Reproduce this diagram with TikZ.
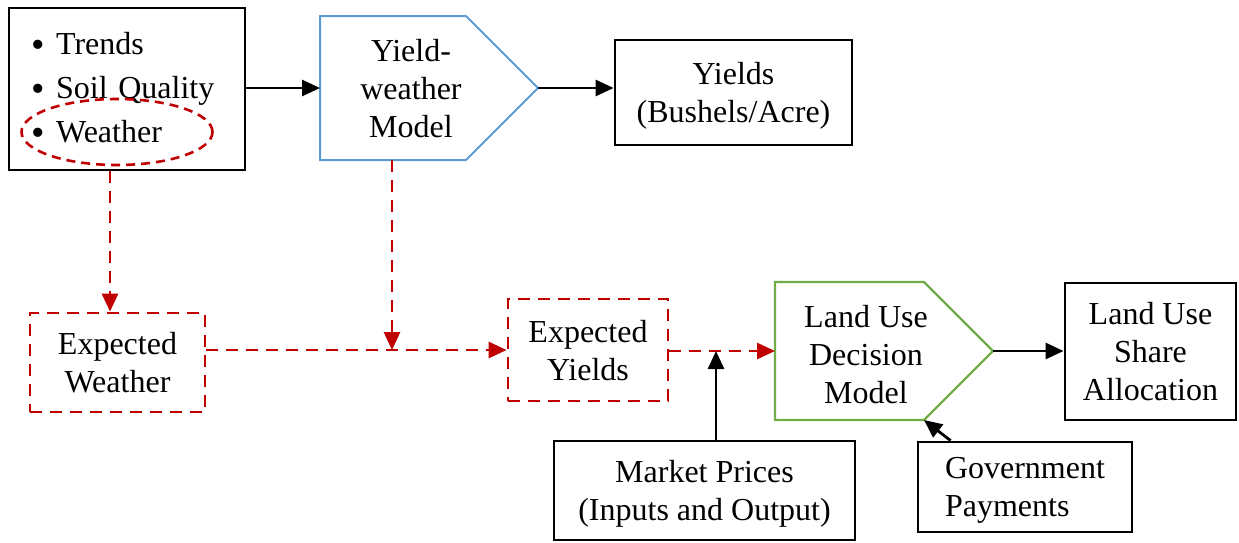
\documentclass[tikz,border=0pt]{standalone}
\usepackage{fontspec}
\setmainfont{Liberation Serif}
\usetikzlibrary{arrows.meta}
\usetikzlibrary{shapes.geometric}
\definecolor{darkred}{HTML}{C00000}
\definecolor{modelblue}{HTML}{5B9BD5}
\definecolor{modelgreen}{HTML}{70AD47}
\newcommand{\bigbullet}{\raisebox{-0.07em}{\scalebox{1.2}{\textbullet}}}

\begin{document}
\begin{tikzpicture}[x=0.5pt, y=-0.5pt, font=\fontsize{16pt}{19pt}\selectfont,
	box/.style={draw, line width=1.4pt, align=center, inner sep=0pt, text depth=0pt},
	inbox/.style={draw, line width=1.4pt, inner sep=0pt},
	redbox/.style={draw=darkred, line width=1.4pt, dash pattern=on 6pt off 4pt, align=center, inner sep=0pt, text depth=0pt},
	txt/.style={align=center, inner sep=0pt},
	blk/.style={line width=1.4pt, -{Triangle[length=9pt, width=8pt]}},
	redarr/.style={darkred, line width=1.4pt, dash pattern=on 6pt off 4pt, -{Triangle[length=9pt, width=8pt]}}]
	\useasboundingbox (0,0) rectangle (1239,542);
	\node[inbox, minimum width=118pt, minimum height=81pt, text width=95pt, align=left, font=\fontsize{16pt}{22pt}\selectfont] (in) at (127,89) {\bigbullet\ Trends\\ \bigbullet\ Soil Quality\\ \bigbullet\ Weather};
	\node[draw=darkred, ellipse, line width=1.3pt, dash pattern=on 4.5pt off 3pt, minimum width=95.5pt, minimum height=33pt] (wx) at (117,132) {};
	\draw[modelblue, line width=1pt] (320,16) -- (466,16) -- (538,88) coordinate (ywtip) -- (466,160) -- (320,160) -- cycle;
	\coordinate (ywin) at (320,88);
	\coordinate (ywout) at (392,160);
	\node[txt] (yw) at (411,89) {Yield-\\weather\\Model};
	\node[box, minimum width=118.5pt, minimum height=52.5pt] (yl) at (733.5,92.5) {Yields\\(Bushels/Acre)};
	\node[redbox, minimum width=87.5pt, minimum height=49.5pt] (ew) at (117.5,362.5) {Expected\\Weather};
	\node[redbox, minimum width=80pt, minimum height=51pt] (ey) at (588,350) {Expected\\Yields};
	\draw[modelgreen, line width=1.1pt] (775,282) -- (924,282) -- (993,351) coordinate (lutip) -- (924,420) coordinate (luse) -- (775,420) -- cycle;
	\coordinate (luin) at (775,351);
	\node[txt] (lu) at (866,355) {Land Use\\Decision\\Model};
	\node[box, minimum width=85.5pt, minimum height=68.5pt] (ls) at (1150.5,351.5) {Land Use\\Share\\Allocation};
	\node[box, minimum width=150.5pt, minimum height=49.5pt] (mp) at (704.5,490.5) {Market Prices\\(Inputs and Output)};
	\node[box, minimum width=107pt, minimum height=45pt, align=left] (gp) at (1025,487) {Government\\Payments};
	\coordinate (j1) at (392,350);
	\coordinate (j2) at (716,351);
	\draw[blk] (in.east |- ywin) -- (ywin);
	\draw[blk] (ywtip) -- (ywtip -| yl.west);
	\draw[redarr] ([xshift=-3.5pt]wx |- in.south) -- ([xshift=-3.5pt]wx |- ew.north);
	\draw[redarr] (ywout) -- (j1);
	\draw[redarr] (ew.east |- j1) -- (ey.west |- j1);
	\draw[redarr] (ey.east |- luin) -- (luin);
	\draw[blk] (mp.north -| j2) -- (j2);
	\draw[blk] (lutip) -- (lutip -| ls.west);
	\draw[blk] ([xshift=17pt]gp.north west) -- (luse);
\end{tikzpicture}
\end{document}
